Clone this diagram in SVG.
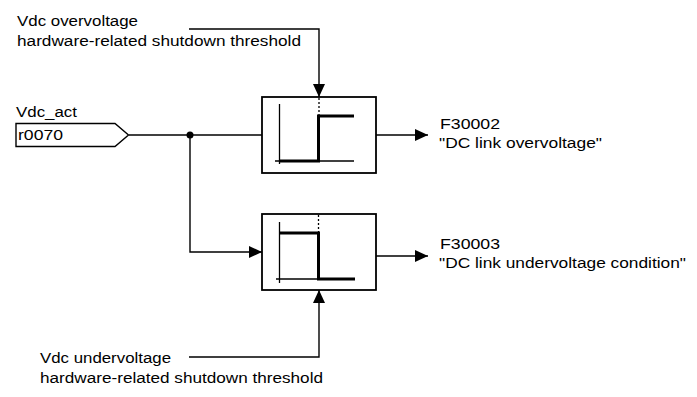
<svg xmlns="http://www.w3.org/2000/svg" width="697" height="397" viewBox="0 0 697 397">
<style>
text{font-family:"Liberation Sans",Arial,sans-serif;font-size:15.5px;fill:#000}
.ln{fill:none;stroke:#000;stroke-width:1.4}
.box{fill:#fff;stroke:#000;stroke-width:1.8}
.ax{fill:none;stroke:#000;stroke-width:1.3}
.step{fill:none;stroke:#000;stroke-width:3}
.dot{fill:none;stroke:#000;stroke-width:1.3;stroke-dasharray:2 2}
</style>
<defs>
<marker id="arr" viewBox="0 0 13 12" refX="13" refY="6" markerWidth="13" markerHeight="12" markerUnits="userSpaceOnUse" orient="auto">
<path d="M0,0 L13,6 L0,12 z" fill="#000"/>
</marker>
</defs>
<g id="connectors">
<polyline class="ln" points="129,135 262,135"/>
<polyline class="ln" points="190,135 190,252 262,252" marker-end="url(#arr)"/>
<polyline class="ln" points="189,29 319,29 319,97" marker-end="url(#arr)"/>
<polyline class="ln" points="189,357 319,357 319,290" marker-end="url(#arr)"/>
<polyline class="ln" points="376,135 428,135" marker-end="url(#arr)"/>
<polyline class="ln" points="376,256 428,256" marker-end="url(#arr)"/>
<circle cx="190" cy="135" r="3.5" fill="#000"/>
</g>
<g id="input">
<polygon class="ln" points="16,123.5 115,123.5 128.5,135 115,146.5 16,146.5"/>
<text x="16" y="117" textLength="61" lengthAdjust="spacingAndGlyphs">Vdc_act</text>
<text x="18" y="140" textLength="45" lengthAdjust="spacingAndGlyphs">r0070</text>
</g>
<g id="overThreshold">
<text x="17" y="26" textLength="121" lengthAdjust="spacingAndGlyphs">Vdc overvoltage</text>
<text x="17" y="46" textLength="284" lengthAdjust="spacingAndGlyphs">hardware-related shutdown threshold</text>
</g>
<g id="underThreshold">
<text x="40" y="363" textLength="131" lengthAdjust="spacingAndGlyphs">Vdc undervoltage</text>
<text x="40" y="383" textLength="283" lengthAdjust="spacingAndGlyphs">hardware-related shutdown threshold</text>
</g>
<g id="overBox">
<rect class="box" x="262" y="97" width="114" height="76"/>
<line class="dot" x1="319" y1="98" x2="319" y2="116"/>
<line class="ax" x1="279.5" y1="104" x2="279.5" y2="164"/>
<line class="ax" x1="275" y1="161" x2="354" y2="161"/>
<polyline class="step" points="279,161 318.5,161 318.5,116 354,116"/>
</g>
<g id="underBox">
<rect class="box" x="262" y="214" width="114" height="76"/>
<line class="dot" x1="318.5" y1="215" x2="318.5" y2="233"/>
<line class="ax" x1="279.5" y1="222" x2="279.5" y2="283"/>
<line class="ax" x1="276" y1="279" x2="355" y2="279"/>
<polyline class="step" points="279,233 318.5,233 318.5,279 355,279"/>
</g>
<g id="out1">
<text x="440" y="129" textLength="60" lengthAdjust="spacingAndGlyphs">F30002</text>
<text x="439" y="148" textLength="163" lengthAdjust="spacingAndGlyphs">"DC link overvoltage"</text>
</g>
<g id="out2">
<text x="440" y="249" textLength="60" lengthAdjust="spacingAndGlyphs">F30003</text>
<text x="439" y="268" textLength="247" lengthAdjust="spacingAndGlyphs">"DC link undervoltage condition"</text>
</g>
</svg>
